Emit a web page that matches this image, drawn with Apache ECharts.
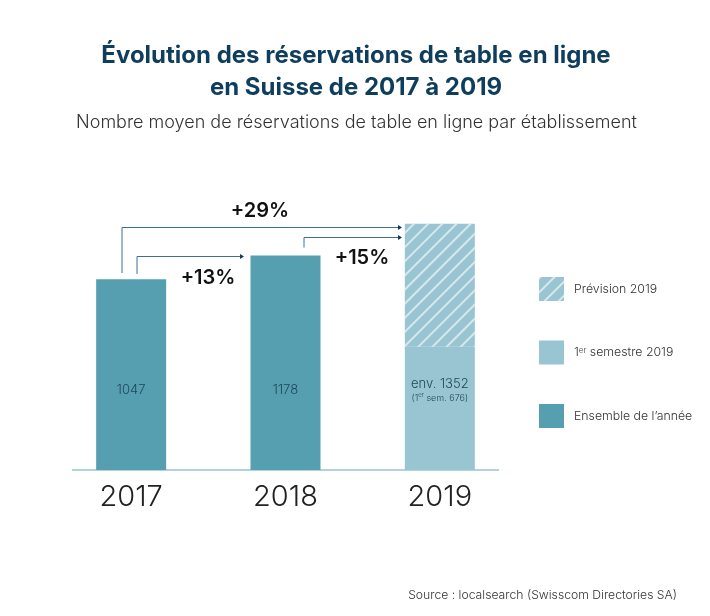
<!DOCTYPE html>
<html>
<head>
<meta charset="utf-8">
<style>
  html, body { margin: 0; padding: 0; background: #fff; }
  #chart { width: 710px; height: 616px; }
</style>
<script src="https://cdn.jsdelivr.net/npm/echarts@6/dist/echarts.min.js"></script>
</head>
<body>
<div id="chart"></div>
<script>
var years = ['2017', '2018', '2019'];
var fullYear = [1047, 1178, null];
var firstHalf = [null, null, 676];
var forecast = [null, null, 676];
var growthLabels = ['+29%', '+13%', '+15%'];

var FONT = 'Inter, "Noto Sans", sans-serif';
var NAVY = '#0f3d5e';
var DARK = '#1f4658';
var TEAL = '#559fb1';
var PALE = '#98c5d1';

// bent connector with a small head, returned as graphic elements
function arrow(x0, y0, y1, x1) {
    return [{
        type: 'polyline',
        shape: { points: [[x0, y0], [x0, y1], [x1, y1]] },
        style: { stroke: '#3f6f95', lineWidth: 1, fill: null }
    }, {
        type: 'polygon',
        shape: { points: [[x1, y1 - 2.5], [x1 + 4, y1], [x1, y1 + 2.5]] },
        style: { fill: NAVY }
    }];
}

function growthText(text, x, y) {
    return {
        type: 'text',
        x: x, y: y,
        style: { text: text, font: '600 20px ' + FONT, fill: '#111', textAlign: 'center', textVerticalAlign: 'middle' }
    };
}

var chart = echarts.init(document.getElementById('chart'));

chart.setOption({
    animation: false,
    title: [{
        text: 'Évolution des réservations de table en ligne\nen Suisse de 2017 à 2019',
        left: 351, top: 35, textAlign: 'center',
        textStyle: { fontFamily: FONT, fontSize: 24, fontWeight: 700, color: NAVY, lineHeight: 32 }
    }, {
        text: 'Nombre moyen de réservations de table en ligne par établissement',
        left: 351.5, top: 109, textAlign: 'center',
        textStyle: { fontFamily: FONT, fontSize: 18, fontWeight: 300, color: '#333' }
    }, {
        text: 'Source : localsearch (Swisscom Directories SA)',
        right: 28, top: 584,
        textStyle: { fontFamily: FONT, fontSize: 12.2, fontWeight: 300, color: '#333' }
    }],
    legend: {
        orient: 'vertical',
        left: 534, top: 272,
        itemWidth: 25, itemHeight: 24, itemGap: 39.5,
        icon: 'rect',
        data: ['Prévision 2019', '1er semestre 2019', 'Ensemble de l’année'],
        formatter: function (name) {
            return name.indexOf('1er') === 0 ? '1{sup|er} semestre 2019' : name;
        },
        textStyle: {
            fontFamily: FONT, fontSize: 12.3, fontWeight: 300, color: '#333', padding: [0, 0, 0, 5],
            rich: { sup: { fontFamily: FONT, fontSize: 8, fontWeight: 300, color: '#333', verticalAlign: 'top', lineHeight: 12 } }
        }
    },
    grid: { left: 54, width: 463, top: 215, bottom: 146 },
    xAxis: {
        type: 'category',
        data: years,
        axisLine: { show: false },
        axisTick: { show: false },
        axisLabel: { fontFamily: FONT, fontSize: 29, fontWeight: 300, color: '#222', margin: 13 }
    },
    yAxis: { type: 'value', min: 0, max: 1400, show: false },
    series: [{
        name: 'Ensemble de l’année',
        type: 'bar', stack: 'total', barWidth: 70,
        data: fullYear,
        itemStyle: { color: TEAL },
        label: {
            show: true, position: 'insideBottom', distance: 73,
            fontFamily: FONT, fontSize: 13, fontWeight: 300, color: DARK
        }
    }, {
        name: '1er semestre 2019',
        type: 'bar', stack: 'total', barWidth: 70,
        data: firstHalf,
        itemStyle: { color: PALE },
        label: {
            show: true, position: 'insideBottom', distance: 65,
            formatter: function (p) {
                return '{a|env. ' + (p.value + forecast[p.dataIndex]) + '}\n{b|(1}{s|er}{b| sem. ' + p.value + ')}';
            },
            rich: {
                a: { fontFamily: FONT, fontSize: 13, fontWeight: 300, color: DARK, lineHeight: 16 },
                b: { fontFamily: FONT, fontSize: 9, fontWeight: 300, color: DARK, lineHeight: 13 },
                s: { fontFamily: FONT, fontSize: 6, fontWeight: 300, color: DARK, verticalAlign: 'top', lineHeight: 13 }
            }
        }
    }, {
        name: 'Prévision 2019',
        type: 'bar', stack: 'total', barWidth: 70,
        data: forecast,
        itemStyle: {
            color: PALE,
            decal: {
                symbol: 'rect',
                color: 'rgba(255,255,255,0.6)',
                dashArrayX: [1, 0],
                dashArrayY: [2, 8],
                rotation: -Math.PI / 4
            }
        }
    }],
    graphic: [{
        type: 'line',
        shape: { x1: 72, y1: 470, x2: 499, y2: 470 },
        style: { stroke: PALE, lineWidth: 1.5 }
    }]
        .concat(arrow(122, 273, 227.5, 398))
        .concat(arrow(137, 274, 256.5, 240))
        .concat(arrow(304, 247.5, 237.5, 398))
        .concat([
            growthText(growthLabels[0], 260, 211),
            growthText(growthLabels[1], 208, 278),
            growthText(growthLabels[2], 362, 258)
        ])
});
</script>
</body>
</html>
